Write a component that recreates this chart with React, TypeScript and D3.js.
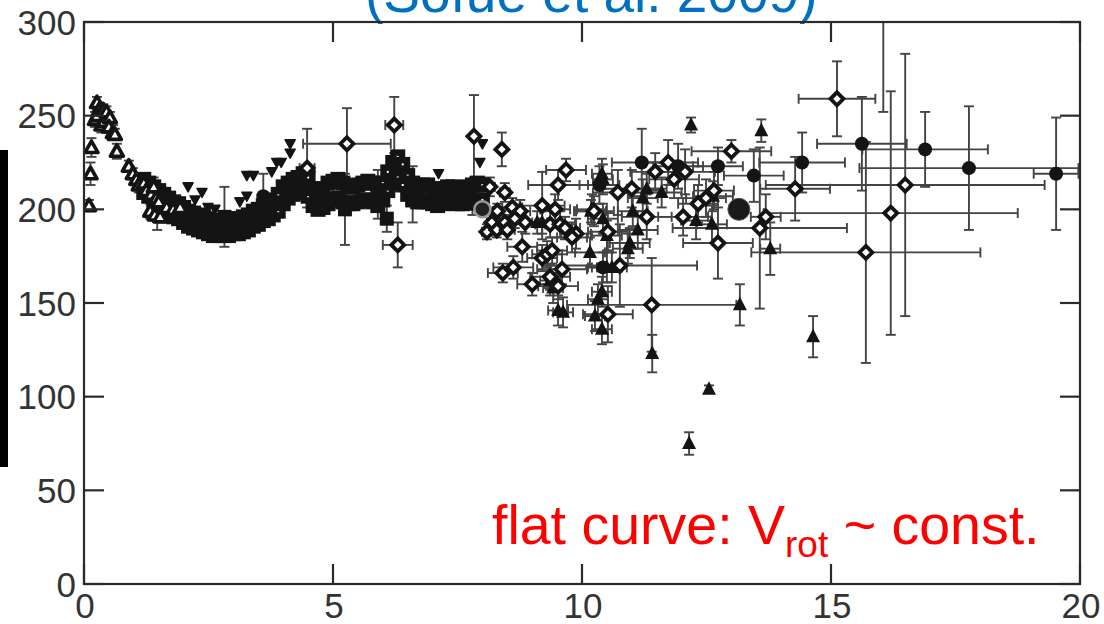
import React from "react";
import * as d3 from "d3";

const W = 1104;
const H = 624;

const xTicks = [0, 5, 10, 15, 20];
const yTicks = [0, 50, 100, 150, 200, 250, 300];

// Open triangles [R, V, dV]
const openTriangles: number[][] = [
  [0.1, 202, 3], [0.13, 219, 6], [0.15, 233, 5], [0.22, 248, 4], [0.26, 257, 3],
  [0.3, 253, 4], [0.26, 250, 3], [0.39, 253, 3], [0.35, 245, 4], [0.4, 247, 4],
  [0.45, 252, 3], [0.52, 249, 3], [0.5, 244, 3], [0.58, 241, 4], [0.62, 240, 3],
  [0.66, 231, 4], [0.9, 223, 3], [0.98, 219, 3], [1.05, 216, 3], [1.1, 213, 4],
  [1.2, 214, 3], [1.25, 210, 3], [1.35, 208, 4], [1.4, 212, 5], [1.45, 206, 3],
  [1.5, 204, 4], [1.33, 199, 4], [1.42, 197, 3], [1.53, 196, 3], [1.66, 201, 3],
  [1.79, 200, 4], [1.93, 201, 3],
];

// Filled squares forming the dense band [R, V]
const squares: number[][] = [
  [1.2, 216], [1.2, 209], [1.3, 214], [1.3, 207], [1.4, 212], [1.4, 205], [1.5, 210], [1.5, 203],
  [1.6, 208], [1.6, 200], [1.7, 206], [1.7, 198], [1.8, 204], [1.8, 196], [1.9, 203], [1.9, 195],
  [2.0, 201], [2.0, 193], [2.1, 199], [2.1, 191], [2.2, 198], [2.2, 190], [2.3, 197], [2.3, 189],
  [2.4, 196], [2.4, 188], [2.5, 195], [2.5, 187], [2.6, 194], [2.6, 186], [2.7, 194], [2.7, 186],
  [2.8, 194], [2.8, 186], [2.9, 194], [2.9, 186], [3.0, 195], [3.0, 187], [3.1, 195], [3.1, 187],
  [3.2, 196], [3.2, 188], [3.3, 197], [3.3, 189], [3.4, 199], [3.4, 191], [3.5, 200], [3.5, 192],
  [3.6, 202], [3.6, 194], [3.7, 203], [3.7, 195], [3.8, 205], [3.8, 197], [3.9, 208], [3.9, 199],
  [4.0, 212], [4.0, 203], [4.1, 214], [4.1, 206], [4.2, 216], [4.2, 208], [4.3, 217], [4.3, 209],
  [4.4, 219], [4.4, 210], [4.5, 217], [4.5, 207], [4.6, 211], [4.6, 202], [4.7, 209], [4.7, 200],
  [4.8, 211], [4.8, 201], [4.9, 214], [4.9, 203], [5.0, 215], [5.0, 205], [5.1, 216], [5.1, 206],
  [5.2, 214], [5.2, 204], [5.3, 212], [5.3, 203], [5.4, 212], [5.4, 203], [5.5, 213], [5.5, 204],
  [5.6, 214], [5.6, 205], [5.7, 215], [5.7, 205], [5.8, 214], [5.8, 204], [5.9, 211], [5.9, 202],
  [6.0, 214], [6.0, 205], [6.1, 220], [6.1, 210], [6.2, 225], [6.2, 214], [6.3, 228], [6.3, 217],
  [6.4, 224], [6.4, 213], [6.5, 218], [6.5, 208], [6.6, 214], [6.6, 205], [6.7, 212], [6.7, 204],
  [6.8, 213], [6.8, 204], [6.9, 213], [6.9, 204], [7.0, 211], [7.0, 203], [7.1, 210], [7.1, 202],
  [7.2, 211], [7.2, 203], [7.3, 212], [7.3, 204], [7.4, 212], [7.4, 204], [7.5, 210], [7.5, 203],
  [7.6, 211], [7.6, 203], [7.7, 212], [7.7, 204], [7.8, 213], [7.8, 204], [7.9, 214], [7.9, 205],
  [8.0, 213], [8.0, 205],
];

// Band points carrying error bars [R, V, dV]
const bandErrors: number[][] = [
  [1.47, 200, 11], [1.66, 200, 5], [2.82, 196, 16], [5.24, 200, 19], [5.9, 208, 13],
  [6.08, 195, 7], [6.6, 208, 15], [7.8, 203, 6],
];

// Inverted filled triangles [R, V]
const invTriangles: number[][] = [
  [2.09, 212], [2.23, 205], [2.37, 209], [2.49, 201], [2.63, 200], [3.13, 204], [3.27, 207],
  [3.27, 218], [3.4, 218], [3.77, 220], [3.87, 225], [3.96, 225], [4.14, 230], [4.14, 235],
  [7.12, 219], [7.95, 225], [8.0, 235],
];

// Open diamonds [R, V, dR, dV]
const diamonds: number[][] = [
  [4.48, 222, 0.15, 21], [5.28, 235, 0.88, 19], [6.23, 245, 0.18, 15], [6.3, 181, 0.3, 12],
  [7.83, 239, 0, 22], [8.39, 232, 0, 9], [8.15, 212, 0.1, 5], [8.45, 209, 0.1, 5],
  [8.3, 199, 0.1, 4], [8.19, 193, 0.1, 4], [8.45, 193, 0.15, 4], [8.09, 188, 0.1, 4],
  [8.29, 189, 0.1, 4], [8.5, 189, 0.15, 5], [8.6, 201, 0.2, 5], [8.76, 199, 0.2, 6],
  [8.65, 195, 0.2, 5], [8.86, 193, 0.3, 6], [9.2, 202, 0.45, 18], [9.46, 200, 0.3, 8],
  [9.36, 192, 0.3, 7], [9.56, 192, 0.3, 7], [9.66, 190, 0.3, 6], [9.88, 187, 0.3, 8],
  [9.8, 185, 0.3, 8], [9.52, 213, 0.6, 8], [9.68, 221, 0.4, 6], [8.8, 180, 0.3, 8],
  [9.2, 174, 0.3, 7], [9.3, 176, 0.3, 7], [9.4, 178, 0.3, 7], [8.62, 169, 0.4, 6],
  [8.41, 166, 0.3, 5], [9.0, 160, 0.3, 6], [9.36, 164, 0.4, 7], [9.6, 168, 0.5, 8],
  [9.52, 159, 0.4, 7], [10.52, 144, 0.5, 15], [10.76, 170, 1.55, 22], [11.4, 149, 1.7, 25],
  [11.47, 220, 0.5, 10], [11.73, 225, 0.6, 12], [12.07, 220, 0.6, 12], [11.85, 216, 0.5, 10],
  [13.0, 231, 0.8, 6], [11.0, 211, 0.6, 10], [10.72, 209, 0.5, 12], [11.3, 196, 0.5, 12],
  [12.03, 196, 0.5, 10], [12.33, 203, 0.4, 10], [12.49, 206, 0.4, 10], [12.65, 210, 0.4, 10],
  [12.73, 182, 0.7, 19], [13.57, 190, 1.75, 43], [13.69, 196, 0.3, 12], [14.28, 211, 0.7, 17],
  [10.52, 188, 0.4, 10], [10.24, 199, 0.4, 8], [15.12, 259, 0.77, 20], [16.49, 213, 2.8, 70],
  [16.2, 198, 2.55, 65], [15.7, 177, 2.3, 59], [16.05, 320, 0, 68],
];

// Filled triangles [R, V, dR, dV]
const triangles: number[][] = [
  [12.19, 245, 0, 4], [13.6, 242, 0, 6], [10.42, 216, 0.2, 8], [10.4, 219, 0.2, 8],
  [10.2, 200, 0.3, 8], [10.42, 195, 0.3, 8], [10.5, 186, 0.3, 8], [11.12, 189, 0.4, 10],
  [10.96, 182, 0.4, 8], [10.92, 179, 0.3, 8], [11.02, 199, 0.3, 8], [11.3, 211, 0.4, 8],
  [11.22, 206, 0.3, 10], [11.6, 209, 0.4, 8], [12.63, 207, 0.4, 8], [12.29, 194, 0.3, 10],
  [12.61, 192, 0.3, 10], [10.16, 177, 0.3, 8], [10.5, 169, 0.3, 8], [10.6, 169, 0.3, 8],
  [10.4, 156, 0.2, 8], [10.32, 152, 0.2, 8], [10.26, 143, 0.2, 8], [10.4, 136, 0.2, 8],
  [9.52, 146, 0.2, 8], [9.62, 145, 0.2, 8], [9.36, 162, 0.2, 8], [9.42, 158, 0.2, 8],
  [9.1, 193, 0.2, 6], [9.2, 193, 0.2, 6], [13.17, 149, 0, 11], [11.41, 123, 0, 10],
  [13.78, 179, 0.2, 14], [14.64, 132, 0, 11], [12.15, 75, 0, 6], [12.55, 104, 0, 2],
  [10.18, 199, 0.3, 6],
];

// Filled circles [R, V, dR, dV]
const circles: number[][] = [
  [3.6, 207, 0, 12], [10.35, 213, 0.4, 10], [10.42, 169, 0.3, 8], [11.2, 225, 0.6, 18],
  [11.93, 223, 0.5, 12], [12.73, 223, 0.5, 10], [13.45, 218, 0.6, 14], [14.42, 225, 0.86, 16],
  [15.62, 235, 0.9, 25], [16.89, 232, 1.26, 20], [17.77, 222, 2.2, 33], [19.52, 219, 0.45, 30],
];

const bigCircle = [13.15, 200];
const sun = [8.0, 200];

export default function App() {
  const x = d3.scaleLinear().domain([0, 20]).range([84, 1080]);
  const y = d3.scaleLinear().domain([0, 300]).range([584, 22]);
  const tickLen = 20;
  const errColor = "#444";
  const cap = 5;

  const errBars = (d: number[], key: string, dR: number, dV: number) => {
    const cx = x(d[0]);
    const cy = y(d[1]);
    const els: any[] = [];
    if (dV > 0) {
      const y1 = y(d[1] + dV);
      const y2 = y(d[1] - dV);
      els.push(<line key={key + "v"} x1={cx} x2={cx} y1={y1} y2={y2} />);
      els.push(<line key={key + "vt"} x1={cx - cap} x2={cx + cap} y1={y1} y2={y1} />);
      els.push(<line key={key + "vb"} x1={cx - cap} x2={cx + cap} y1={y2} y2={y2} />);
    }
    if (dR > 0) {
      const x1 = x(d[0] - dR);
      const x2 = x(d[0] + dR);
      els.push(<line key={key + "h"} x1={x1} x2={x2} y1={cy} y2={cy} />);
      els.push(<line key={key + "hl"} x1={x1} x2={x1} y1={cy - cap} y2={cy + cap} />);
      els.push(<line key={key + "hr"} x1={x2} x2={x2} y1={cy - cap} y2={cy + cap} />);
    }
    return els;
  };

  const diamondPath = "M0,-6.5L6.5,0L0,6.5L-6.5,0Z";
  const openTriPath = "M0,-6.5L6.5,5L-6.5,5Z";
  const triPath = "M0,-8L7,5.5L-7,5.5Z";
  const invTriPath = "M-5,-4L5,-4L0,5Z";

  return (
    <svg
      width={W}
      height={H}
      style={{ position: "absolute", left: 0, top: 0, background: "#fff" }}
      fontFamily="'Liberation Sans', Arial, sans-serif"
    >
      <rect x={0} y={0} width={W} height={H} fill="#fff" />
      <defs>
        <clipPath id="plot">
          <rect x={84} y={22} width={996} height={562} />
        </clipPath>
      </defs>

      {/* title (cropped at top) */}
      <text x={365} y={12} fontSize={55} fill="#0070C0">
        (Sofue et al. 2009)
      </text>

      {/* black bar at left */}
      <rect x={0} y={150} width={8} height={317} fill="#000" />

      <g clipPath="url(#plot)">
        {/* error bars */}
        <g stroke={errColor} strokeWidth={1.9} fill="none">
          {openTriangles.map((d, i) => errBars(d, "ot" + i, 0, d[2]))}
          {bandErrors.map((d, i) => errBars(d, "be" + i, 0, d[2]))}
          {diamonds.map((d, i) => errBars(d, "di" + i, d[2], d[3]))}
          {triangles.map((d, i) => errBars(d, "tr" + i, d[2], d[3]))}
          {circles.map((d, i) => errBars(d, "ci" + i, d[2], d[3]))}
        </g>

        {/* band squares */}
        {squares.map((d, i) => (
          <g key={"sq" + i} transform={`translate(${x(d[0])},${y(d[1])})`}>
            <rect x={-7.5} y={-7.5} width={15} height={15} fill="#141414" />
            <rect x={-1} y={-1} width={2} height={2} fill="#fff" />
          </g>
        ))}
        {bandErrors.map((d, i) => (
          <rect key={"bes" + i} x={x(d[0]) - 7} y={y(d[1]) - 7} width={14} height={14} fill="#141414" />
        ))}

        {/* open triangles */}
        {openTriangles.map((d, i) => (
          <path
            key={"otm" + i}
            d={openTriPath}
            transform={`translate(${x(d[0])},${y(d[1])})`}
            fill="#fff"
            stroke="#141414"
            strokeWidth={3.6}
            strokeLinejoin="round"
          />
        ))}

        {/* inverted triangles */}
        {invTriangles.map((d, i) => (
          <path
            key={"it" + i}
            d={invTriPath}
            transform={`translate(${x(d[0])},${y(d[1])})`}
            fill="#141414"
            stroke="#141414"
            strokeWidth={1.5}
            strokeLinejoin="round"
          />
        ))}

        {/* filled triangles */}
        {triangles.map((d, i) => (
          <path
            key={"trm" + i}
            d={triPath}
            transform={`translate(${x(d[0])},${y(d[1])})`}
            fill="#141414"
          />
        ))}

        {/* filled circles */}
        {circles.map((d, i) => (
          <circle key={"cim" + i} cx={x(d[0])} cy={y(d[1])} r={7} fill="#141414" />
        ))}

        {/* open diamonds */}
        {diamonds.map((d, i) => (
          <path
            key={"dim" + i}
            d={diamondPath}
            transform={`translate(${x(d[0])},${y(d[1])})`}
            fill="#fff"
            stroke="#141414"
            strokeWidth={3.8}
          />
        ))}

        <circle cx={x(bigCircle[0])} cy={y(bigCircle[1])} r={11} fill="#1a1a1a" stroke="#555" strokeWidth={1} />
        <circle cx={x(sun[0])} cy={y(sun[1])} r={8} fill="#222" stroke="#999" strokeWidth={2.5} />
      </g>

      {/* frame */}
      <rect x={84} y={22} width={996} height={562} fill="none" stroke="#2a2a2a" strokeWidth={2.2} />

      {/* ticks */}
      <g stroke="#2a2a2a" strokeWidth={2.2}>
        {xTicks.map((t) => (
          <g key={"xt" + t}>
            <line x1={x(t)} x2={x(t)} y1={584} y2={584 - tickLen} />
            <line x1={x(t)} x2={x(t)} y1={22} y2={22 + tickLen} />
          </g>
        ))}
        {yTicks.map((t) => (
          <g key={"yt" + t}>
            <line x1={84} x2={84 + tickLen} y1={y(t)} y2={y(t)} />
            <line x1={1080} x2={1080 - tickLen} y1={y(t)} y2={y(t)} />
          </g>
        ))}
      </g>

      {/* tick labels */}
      <g fill="#333" fontSize={35}>
        {yTicks.map((t) => (
          <text key={"yl" + t} x={76} y={y(t) + 12.5} textAnchor="end">
            {t}
          </text>
        ))}
        {xTicks.map((t) => (
          <text key={"xl" + t} x={x(t) + 1} y={618} textAnchor="middle">
            {t}
          </text>
        ))}
      </g>

      {/* annotation */}
      <text x={492} y={544} fontSize={55.5} fill="#FF0000">
        flat curve: V
        <tspan fontSize={37} dy={13}>rot</tspan>
        <tspan dy={-13}> ~ const.</tspan>
      </text>
    </svg>
  );
}
